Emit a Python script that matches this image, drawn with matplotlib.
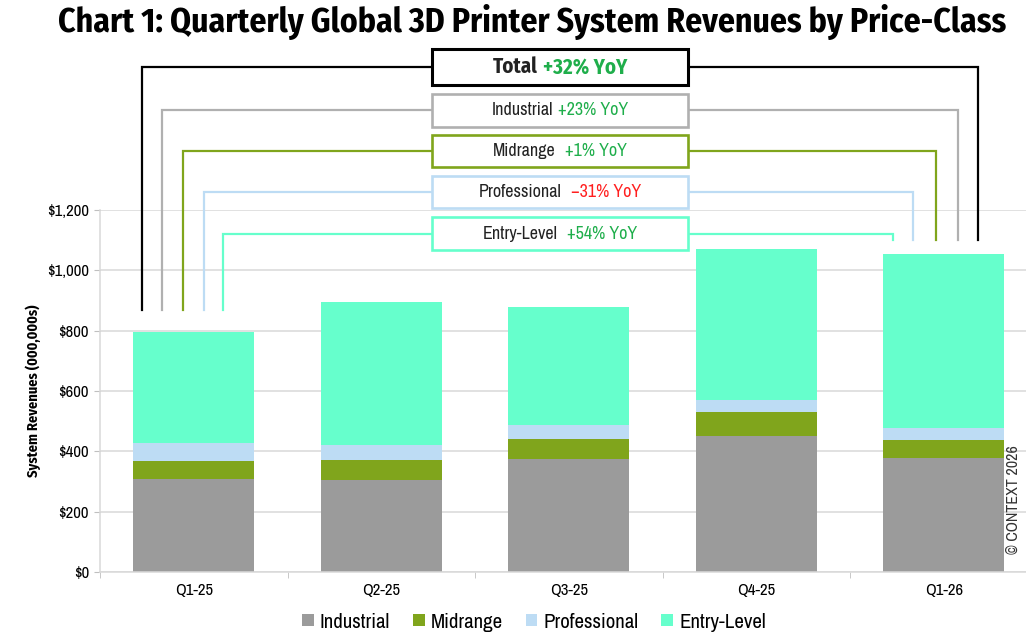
import numpy as np
import matplotlib.pyplot as plt
from matplotlib.patches import Rectangle
from matplotlib.ticker import FuncFormatter, FixedLocator

# values (US$ millions)
quarters = ["Q1-25", "Q2-25", "Q3-25", "Q4-25", "Q1-26"]
industrial = [308, 306, 375, 451, 379]
midrange = [60, 65, 65, 78, 59]
professional = [59, 50, 46, 42, 38]
entry_level = [370, 474, 393, 501, 577]

classes = ["Industrial", "Midrange", "Professional", "Entry-Level"]
colors = ["#9B9B9B", "#80A51C", "#BDDCF4", "#66FFCC"]

# YoY callouts
box_labels = ["Total", "Industrial", "Midrange", "Professional", "Entry-Level"]
box_pcts = ["+32% YoY", "+23% YoY", "+1% YoY", "\u221231% YoY", "+54% YoY"]
pct_colors = ["#1FAE4B", "#1FAE4B", "#1FAE4B", "#FF1F1F", "#1FAE4B"]
line_colors = ["#000000", "#B0B0B0", "#80A51C", "#BDDCF4", "#66FFCC"]

NARROW = ["Archivo Narrow", "DejaVu Sans"]
NARROW_BOLD = ["Fira Sans Condensed", "DejaVu Sans"]
plt.rcParams["font.family"] = NARROW

fig = plt.figure(figsize=(10.26, 6.38), dpi=100)
ax = fig.add_axes([100 / 1026, 1 - 572 / 638, 937.5 / 1026, 362 / 638])

x = np.arange(len(quarters))
series = [industrial, midrange, professional, entry_level]
bottom = np.zeros(len(quarters))
for name, vals, c in zip(classes, series, colors):
    ax.bar(x, vals, width=0.645, bottom=bottom, color=c, label=name, zorder=2)
    bottom += np.array(vals)
totals = bottom

ax.set_xlim(-0.5, len(quarters) - 0.5)
ax.set_ylim(0, 1200)
ax.yaxis.set_major_locator(FixedLocator(np.arange(0, 1201, 200)))
ax.yaxis.set_major_formatter(FuncFormatter(lambda v, p: "${:,.0f}".format(v)))
ax.set_xticks(x)
ax.set_xticklabels(quarters)
ax.set_xticks(np.arange(-0.5, len(quarters), 1), minor=True)
ax.tick_params(axis="x", which="major", length=0, pad=8, labelsize=12)
ax.tick_params(axis="x", which="minor", length=4, color="#BFBFBF")
ax.tick_params(axis="y", length=4, color="#BFBFBF", labelsize=12, pad=4)
ax.grid(axis="y", color="#D9D9D9", linewidth=1.1, zorder=0)
ax.set_axisbelow(True)
for s in ["top", "right"]:
    ax.spines[s].set_visible(False)
ax.spines["left"].set_color("#D9D9D9")
ax.spines["bottom"].set_color("#D9D9D9")
ax.spines["left"].set_linewidth(1.1)
ax.spines["bottom"].set_linewidth(1.1)
ylab = ax.set_ylabel("System Revenues (000,000s)", fontsize=10.5, fontweight="bold",
                     family=NARROW_BOLD, labelpad=4)

# callout boxes and connector lines (data coords, drawn above the plot area)
box_cx = 1.952
box_w = 1.365
box_y = [1674, 1530, 1396, 1260, 1122]
box_h = [119, 108, 106, 106, 110]
left_off = [-0.277, -0.17, -0.059, 0.053, 0.155]
right_off = [0.181, 0.075, -0.043, -0.165, -0.272]
left_bottom = totals[0] + 70
right_bottom = totals[-1] + 47

texts = []
for i in range(5):
    lw = 2.2 if i == 0 else 1.9
    yc = box_y[i]
    xl = x[0] + left_off[i]
    xr = x[-1] + right_off[i]
    ax.plot([xl, xl, box_cx - box_w / 2], [left_bottom, yc, yc], color=line_colors[i],
            lw=1.6, clip_on=False, solid_joinstyle="miter", zorder=3)
    ax.plot([box_cx + box_w / 2, xr, xr], [yc, yc, right_bottom], color=line_colors[i],
            lw=1.6, clip_on=False, solid_joinstyle="miter", zorder=3)
    ax.add_patch(Rectangle((box_cx - box_w / 2, yc - box_h[i] / 2), box_w, box_h[i],
                           facecolor="white", edgecolor=line_colors[i], lw=lw,
                           clip_on=False, zorder=4, joinstyle="miter"))
    if i == 0:
        kw = dict(fontsize=15, fontweight="bold", family=NARROW_BOLD)
    else:
        kw = dict(fontsize=13)
    t1 = ax.text(box_cx, yc, box_labels[i], color="#222222", ha="left", va="center",
                 zorder=5, **kw)
    t2 = ax.text(box_cx, yc, box_pcts[i], color=pct_colors[i], ha="left", va="center",
                 zorder=5, **kw)
    texts.append((t1, t2, yc, 5 if i < 2 else 9))

title = fig.text(532 / 1026, 1 - 22 / 638,
                 "Chart 1: Quarterly Global 3D Printer System Revenues by Price-Class",
                 ha="center", va="center", fontsize=29, fontweight="bold", family=NARROW_BOLD)
fig.text(1013 / 1026, 1 - 500 / 638, "\u00a9 CONTEXT 2026", rotation=90, ha="center",
         va="center", fontsize=11.5, color="#333333")

fig.legend(loc="center", bbox_to_anchor=(534 / 1026, 1 - 622 / 638), ncol=4, frameon=False,
           fontsize=15, handlelength=0.55, handleheight=0.55, handletextpad=0.3,
           columnspacing=1.1)

fig.canvas.draw()
r = fig.canvas.get_renderer()
# fit title and axis label to the reference widths
tw = title.get_window_extent(r).width
title.set_fontsize(29 * 950 / tw)
lh = ylab.get_window_extent(r).height
ylab.set_fontsize(10.5 * 172 / lh)
fig.canvas.draw()
for t1, t2, yc, gap in texts:
    w1 = t1.get_window_extent(r).width
    w2 = t2.get_window_extent(r).width
    cx, cy = ax.transData.transform((box_cx, yc))
    x0 = cx - (w1 + gap + w2) / 2
    t1.set_position(ax.transData.inverted().transform((x0, cy)))
    t2.set_position(ax.transData.inverted().transform((x0 + w1 + gap, cy)))

fig.savefig("out.png", dpi=100)
